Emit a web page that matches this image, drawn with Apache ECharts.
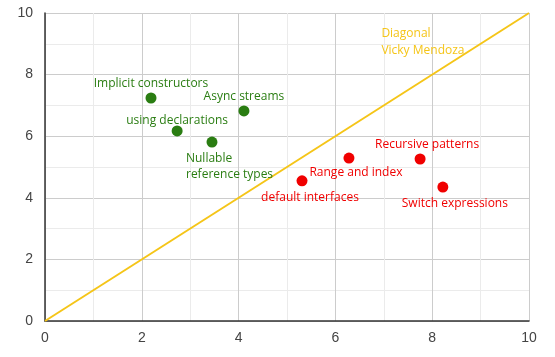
<!DOCTYPE html>
<html><head><meta charset="utf-8">
<script src="https://cdn.jsdelivr.net/npm/echarts@6/dist/echarts.min.js"></script>
<style>html,body{margin:0;padding:0;background:#fff}#c{width:555px;height:357px}</style>
</head><body><div id="c"></div>
<script>
var greenNames = ["Implicit constructors", "Async streams", "using declarations", "Nullable\nreference types"];
var greenX = [2.19, 4.11, 2.73, 3.45];
var greenY = [7.24, 6.82, 6.17, 5.81];
var greenLabelPos = ["top", "top", "top", "bottom"];

var redNames = ["default interfaces", "Range and index", "Recursive patterns", "Switch expressions"];
var redX = [5.31, 6.28, 7.75, 8.22];
var redY = [4.55, 5.29, 5.26, 4.35];
var redLabelPos = ["bottom", "bottom", "top", "bottom"];

var diagonalX = [0, 10];
var diagonalY = [0, 10];
var diagonalLabel = "Diagonal\nVicky Mendoza";
var diagonalLabelAt = [6.95, 9.62];

var axisTicks = [0, 2, 4, 6, 8, 10];

var FONT = "'Open Sans', 'Noto Sans', sans-serif";
var AXFONT = "'Liberation Sans', Arial, sans-serif";
var GREEN = "#2a7d12", RED = "#f00000", GOLD = "#f5c518";

var labelOffsets = {
  "Nullable\nreference types": [-26, 0],
  "using declarations": [0, 4],
  "Range and index": [7, -2],
  "default interfaces": [8, 0],
  "Switch expressions": [12, 0],
  "Recursive patterns": [7, 0]
};

function pts(names, xs, ys, pos) {
  return names.map(function (n, i) {
    var lbl = { position: pos[i], distance: pos[i] === 'bottom' ? 3 : 1 };
    if (n.indexOf("\n") >= 0) { lbl.align = "left"; }
    if (labelOffsets[n]) lbl.offset = labelOffsets[n];
    return { name: n, value: [xs[i], ys[i]], label: lbl };
  });
}

var chart = echarts.init(document.getElementById('c'), null, { renderer: 'canvas' });
var axisCommon = {
  type: 'value', min: axisTicks[0], max: axisTicks[axisTicks.length - 1], interval: 2,
  axisLine: { show: true, onZero: false, lineStyle: { color: '#333', width: 1.5 } },
  axisTick: { show: false },
  splitLine: { show: true, lineStyle: { color: '#cccccc', width: 1 } },
  minorTick: { show: false, splitNumber: 2 },
  minorSplitLine: { show: true, lineStyle: { color: '#ebebeb', width: 1 } },
  axisLabel: { color: '#444', fontSize: 14, fontFamily: AXFONT }
};
chart.setOption({
  animation: false,
  grid: { left: 45, right: 26, top: 13, bottom: 36, containLabel: false },
  xAxis: Object.assign({}, axisCommon, { axisLabel: Object.assign({}, axisCommon.axisLabel, { margin: 10 }) }),
  yAxis: Object.assign({}, axisCommon, { axisLabel: Object.assign({}, axisCommon.axisLabel, { margin: 12 }) }),
  series: [
    {
      type: 'line', data: diagonalX.map(function (x, i) { return [x, diagonalY[i]]; }),
      symbol: 'none', lineStyle: { color: GOLD, width: 2 }, z: 2,
      markPoint: {
        symbol: 'circle', symbolSize: 0,
        label: { show: true, formatter: diagonalLabel, color: GOLD, fontSize: 12, fontFamily: FONT,
                 position: 'right', distance: 0, align: 'left', verticalAlign: 'top', lineHeight: 17 },
        data: [{ coord: diagonalLabelAt }]
      }
    },
    {
      type: 'scatter', symbolSize: 11, itemStyle: { color: GREEN, opacity: 1 }, z: 3,
      label: { show: true, formatter: '{b}', color: GREEN, fontSize: 12, fontFamily: FONT, lineHeight: 16 },
      data: pts(greenNames, greenX, greenY, greenLabelPos)
    },
    {
      type: 'scatter', symbolSize: 11, itemStyle: { color: RED, opacity: 1 }, z: 3,
      label: { show: true, formatter: '{b}', color: RED, fontSize: 12, fontFamily: FONT, lineHeight: 16 },
      data: pts(redNames, redX, redY, redLabelPos)
    }
  ]
});
</script></body></html>
